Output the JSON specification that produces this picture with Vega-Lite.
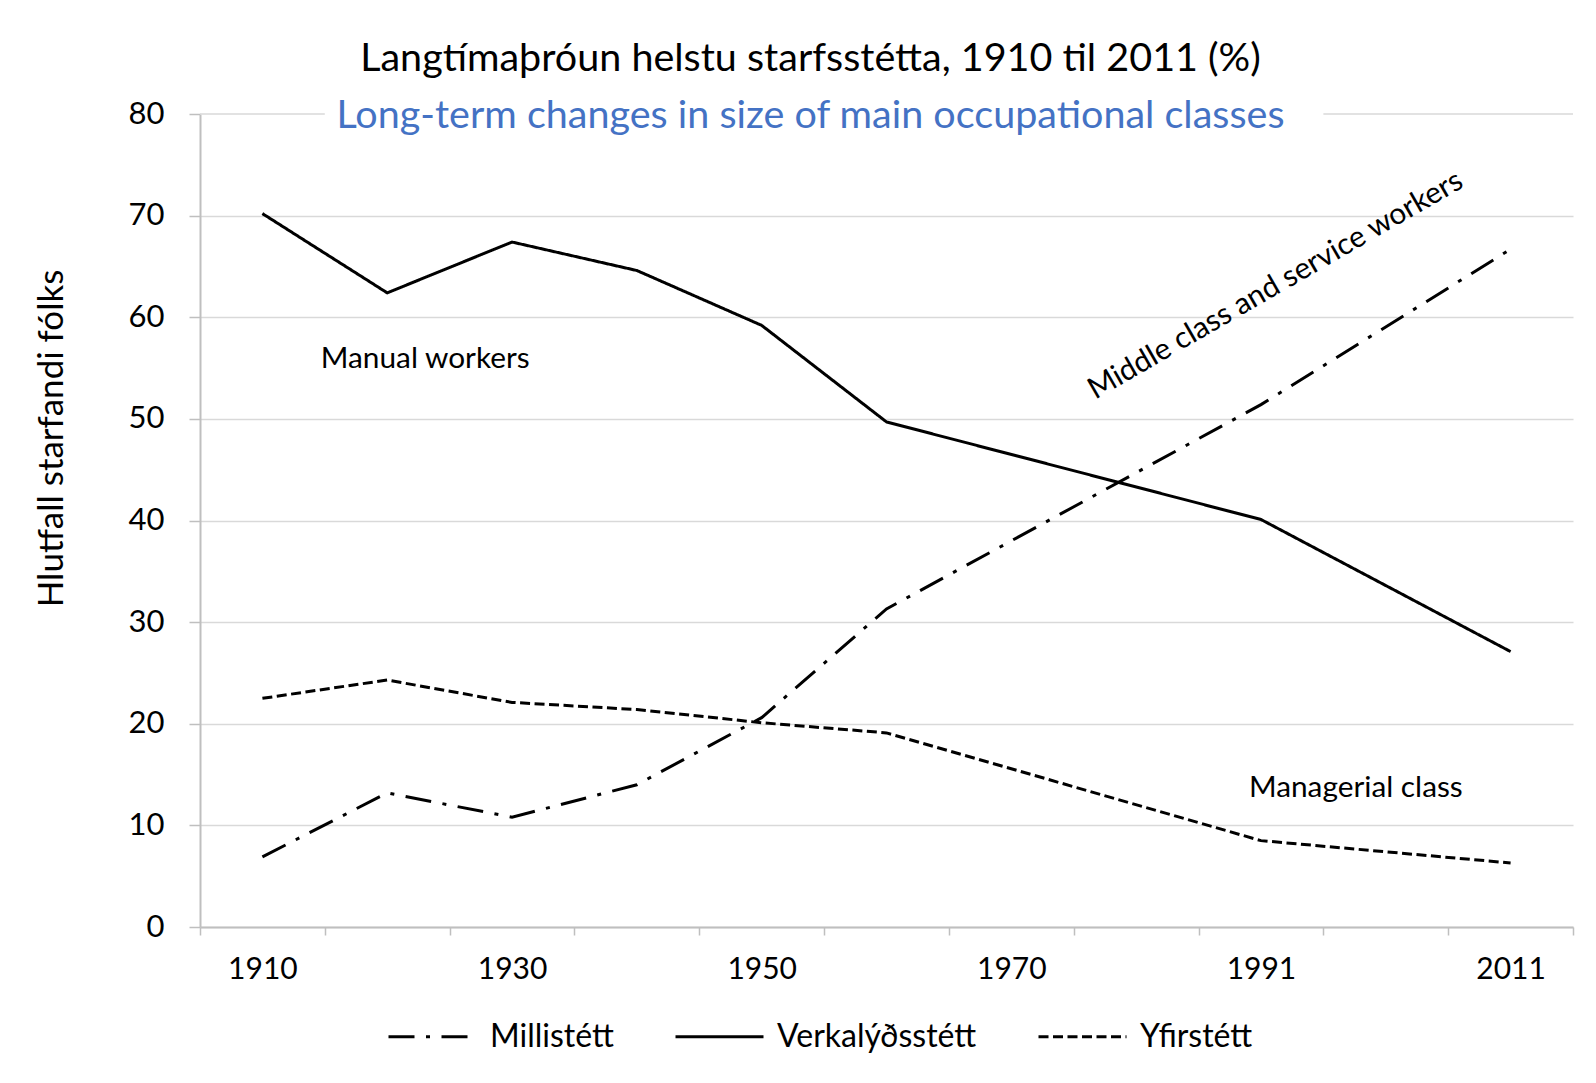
{
  "$schema": "https://vega.github.io/schema/vega-lite/v6.json",
  "width": 1373,
  "height": 813,
  "autosize": {"type": "none"},
  "padding": {"left": 200, "top": 114, "right": 23, "bottom": 156},
  "background": "white",
  "config": {
    "font": "Lato",
    "view": {"stroke": null},
    "axis": {"labelFont": "Lato", "titleFont": "Lato", "labelColor": "black", "titleColor": "black", "titleFontWeight": "normal"}
  },
  "title": {
    "text": "Langtímaþróun helstu starfsstétta, 1910 til 2011 (%)",
    "subtitle": "Long-term changes in size of main occupational classes",
    "anchor": "middle",
    "frame": "group",
    "font": "Lato",
    "subtitleFont": "Lato",
    "fontSize": 39.5,
    "subtitleFontSize": 39.5,
    "fontWeight": "normal",
    "color": "black",
    "subtitleColor": "#4472C4",
    "subtitlePadding": 17,
    "offset": -38,
    "dx": -76
  },
  "datasets": {
    "series": [
      {"year": "1910", "series": "Verkalýðsstétt", "value": 70.2},
      {"year": "1920", "series": "Verkalýðsstétt", "value": 62.4},
      {"year": "1930", "series": "Verkalýðsstétt", "value": 67.4},
      {"year": "1940", "series": "Verkalýðsstétt", "value": 64.6},
      {"year": "1950", "series": "Verkalýðsstétt", "value": 59.2},
      {"year": "1960", "series": "Verkalýðsstétt", "value": 49.7},
      {"year": "1991", "series": "Verkalýðsstétt", "value": 40.1},
      {"year": "2011", "series": "Verkalýðsstétt", "value": 27.1},
      {"year": "1910", "series": "Millistétt", "value": 6.9},
      {"year": "1920", "series": "Millistétt", "value": 13.2},
      {"year": "1930", "series": "Millistétt", "value": 10.8},
      {"year": "1940", "series": "Millistétt", "value": 14.0},
      {"year": "1950", "series": "Millistétt", "value": 20.6},
      {"year": "1960", "series": "Millistétt", "value": 31.3},
      {"year": "1991", "series": "Millistétt", "value": 51.4},
      {"year": "2011", "series": "Millistétt", "value": 66.7},
      {"year": "1910", "series": "Yfirstétt", "value": 22.5},
      {"year": "1920", "series": "Yfirstétt", "value": 24.3},
      {"year": "1930", "series": "Yfirstétt", "value": 22.1},
      {"year": "1940", "series": "Yfirstétt", "value": 21.4},
      {"year": "1950", "series": "Yfirstétt", "value": 20.1},
      {"year": "1960", "series": "Yfirstétt", "value": 19.1},
      {"year": "1991", "series": "Yfirstétt", "value": 8.5},
      {"year": "2011", "series": "Yfirstétt", "value": 6.3}
    ],
    "gridgap": [
      {"from": "1910", "to": "1910"},
      {"from": "2001", "to": "2011"}
    ]
  },
  "layer": [
    {
      "data": {"name": "gridgap"},
      "mark": {"type": "rule", "color": "#d9d9d9", "strokeWidth": 1.5},
      "encoding": {
        "x": {"field": "from", "type": "ordinal", "bandPosition": 0, "title": null},
        "x2": {"field": "to", "bandPosition": 1},
        "y": {"datum": 80, "type": "quantitative"}
      }
    },
    {
      "data": {"name": "series"},
      "mark": {"type": "line", "color": "black", "strokeWidth": 3, "strokeCap": "butt"},
      "encoding": {
        "x": {
          "field": "year",
          "type": "ordinal",
          "scale": {"type": "band", "domain": ["1910", "1920", "1930", "1940", "1950", "1960", "1970", "1981", "1991", "2001", "2011"], "paddingInner": 0, "paddingOuter": 0},
          "axis": {
            "title": null,
            "labelAngle": 0,
            "bandPosition": 0.5,
            "tickBand": "extent",
            "labelAlign": "center",
            "labelExpr": "indexof(['1910','1930','1950','1970','1991','2011'], datum.value) >= 0 ? datum.value : ''",
            "labelFontSize": 30,
            "labelPadding": 34,
            "tickSize": 8,
            "tickColor": "#bfbfbf",
            "tickWidth": 1.5,
            "domainColor": "#bfbfbf",
            "domainWidth": 2,
            "grid": false
          }
        },
        "y": {
          "field": "value",
          "type": "quantitative",
          "title": "Hlutfall starfandi fólks",
          "scale": {"domain": [0, 80], "nice": false, "zero": true},
          "axis": {
            "title": "Hlutfall starfandi fólks",
            "titleFontSize": 35,
            "titleX": -149,
            "titleY": 324,
            "titleAngle": -90,
            "titleAlign": "center",
            "titleBaseline": "middle",
            "values": [0, 10, 20, 30, 40, 50, 60, 70, 80],
            "labelFontSize": 31,
            "labelPadding": 25,
            "tickSize": 11,
            "tickColor": "#bfbfbf",
            "tickWidth": 1.5,
            "domainColor": "#bfbfbf",
            "domainWidth": 2,
            "grid": true,
            "gridColor": "#d9d9d9",
            "gridWidth": 1.5,
            "gridOpacity": {"condition": {"test": "datum.value === 80", "value": 0}, "value": 1}
          }
        },
        "strokeDash": {
          "field": "series",
          "type": "nominal",
          "scale": {
            "domain": ["Millistétt", "Verkalýðsstétt", "Yfirstétt"],
            "range": [[26, 11.5, 4, 11.5], [1, 0], [10, 4.5]]
          },
          "legend": {
            "title": null,
            "orient": "none",
            "legendX": 187,
            "legendY": 877,
            "direction": "horizontal",
            "symbolType": "stroke",
            "symbolSize": 7744,
            "symbolStrokeWidth": 3,
            "symbolStrokeColor": "black",
            "labelFont": "Lato",
            "labelFontSize": 32,
            "labelColor": "black",
            "labelOffset": 12,
            "labelLimit": 500,
            "columnPadding": 55,
            "padding": 0
          }
        },
        "detail": {"field": "series"}
      }
    },
    {
      "data": {"values": [{"label": "Manual workers", "year": "1920", "value": 55.0}]},
      "mark": {"type": "text", "align": "left", "baseline": "alphabetic", "fontSize": 29.8, "font": "Lato", "color": "black", "dx": -4},
      "encoding": {
        "x": {"field": "year", "type": "ordinal", "bandPosition": 0, "title": null},
        "y": {"field": "value", "type": "quantitative"},
        "text": {"field": "label"}
      }
    },
    {
      "data": {"values": [{"label": "Managerial class", "year": "1991", "value": 12.8}]},
      "mark": {"type": "text", "align": "left", "baseline": "alphabetic", "fontSize": 29.8, "font": "Lato", "color": "black", "dx": -12},
      "encoding": {
        "x": {"field": "year", "type": "ordinal", "title": null},
        "y": {"field": "value", "type": "quantitative"},
        "text": {"field": "label"}
      }
    },
    {
      "data": {"values": [{"label": "Middle class and service workers", "year": "1991", "value": 61.3}]},
      "mark": {"type": "text", "align": "center", "baseline": "alphabetic", "fontSize": 29.8, "font": "Lato", "color": "black", "angle": -30, "dx": 22},
      "encoding": {
        "x": {"field": "year", "type": "ordinal", "title": null},
        "y": {"field": "value", "type": "quantitative"},
        "text": {"field": "label"}
      }
    }
  ]
}
